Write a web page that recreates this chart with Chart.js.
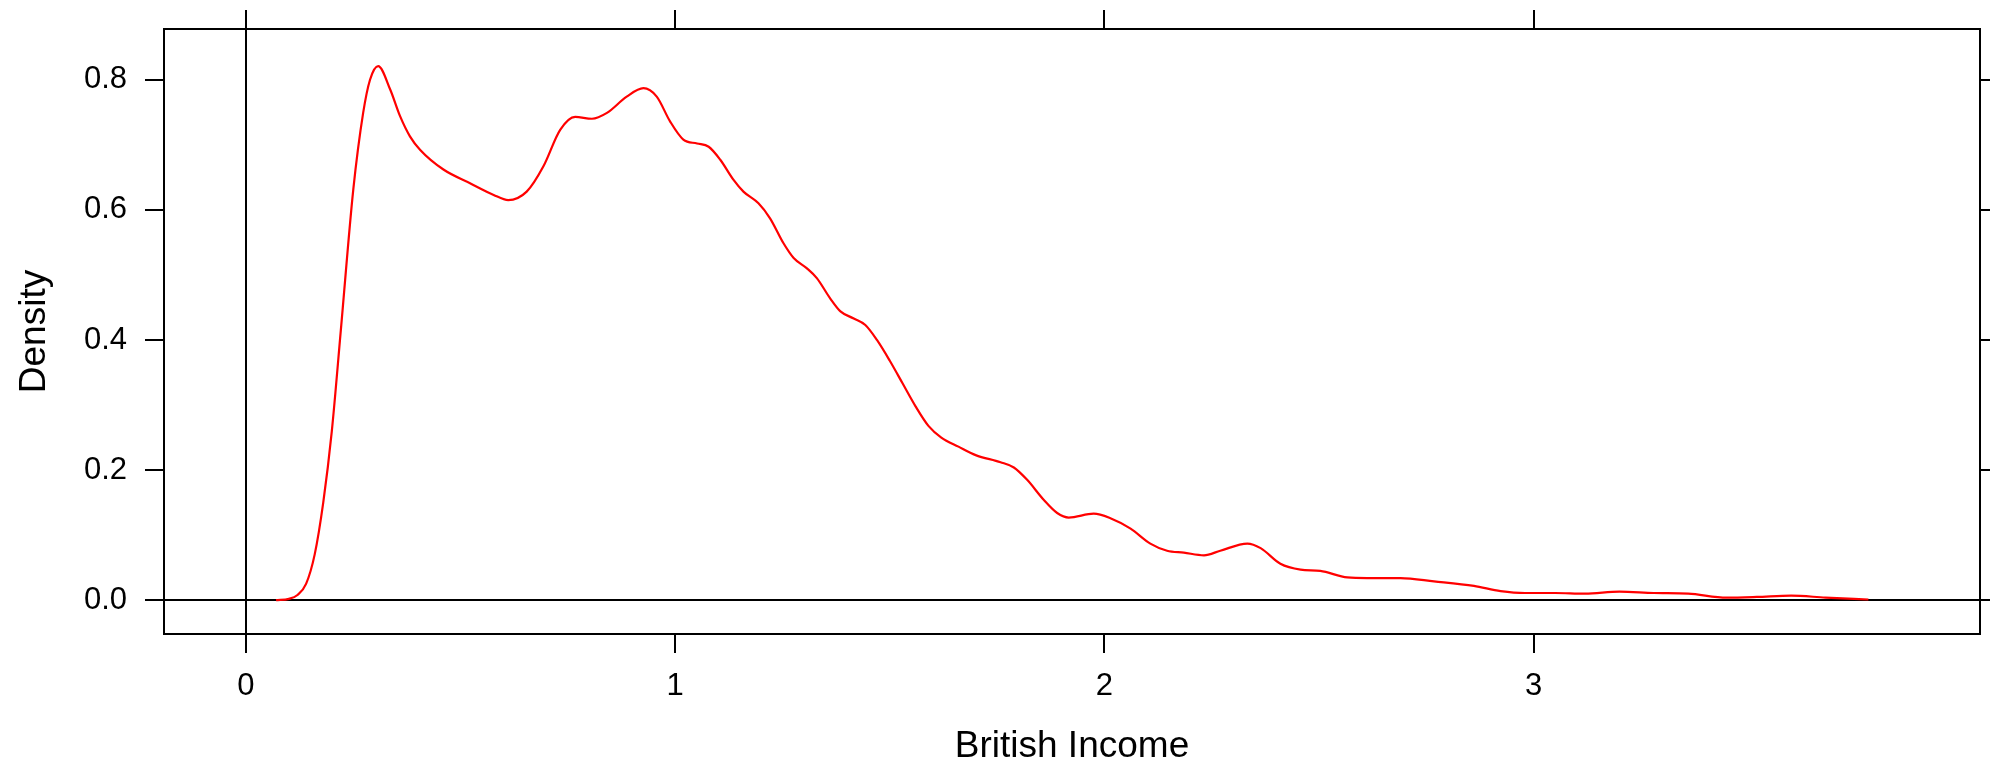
<!DOCTYPE html>
<html>
<head>
<meta charset="utf-8">
<title>British Income density</title>
<script src="https://cdn.jsdelivr.net/npm/chart.js@4/dist/chart.umd.min.js"></script>
<style>
  html, body { margin: 0; padding: 0; background: #ffffff; }
  #wrap { width: 1990px; height: 768px; }
</style>
</head>
<body>
<div id="wrap"><canvas id="chart" width="1990" height="768"></canvas></div>
<script>
// Kernel density estimate of British income (evaluation grid and density)
const incomeX = [
  0.07, 0.10, 0.12, 0.14, 0.16, 0.18, 0.20, 0.221, 0.25, 0.273, 0.289, 0.308,
  0.336, 0.359, 0.382, 0.406, 0.46, 0.522, 0.577, 0.611, 0.654, 0.693, 0.732,
  0.767, 0.806, 0.841, 0.887, 0.926, 0.957, 0.988, 1.019, 1.051, 1.078, 1.105,
  1.136, 1.159, 1.194, 1.221, 1.252, 1.276, 1.307, 1.330, 1.361, 1.385, 1.416,
  1.443, 1.470, 1.50, 1.53, 1.56, 1.59, 1.62, 1.66, 1.70, 1.758, 1.789, 1.820,
  1.859, 1.890, 1.917, 1.975, 2.014, 2.061, 2.107, 2.146, 2.185, 2.232, 2.270,
  2.333, 2.364, 2.410, 2.457, 2.503, 2.566, 2.612, 2.690, 2.768, 2.861, 2.923,
  2.98, 3.05, 3.12, 3.20, 3.28, 3.36, 3.45, 3.52, 3.60, 3.68, 3.78
];
const densityY = [
  0.000, 0.002, 0.008, 0.025, 0.07, 0.15, 0.26, 0.415, 0.631, 0.749, 0.800, 0.821,
  0.785, 0.744, 0.713, 0.692, 0.662, 0.641, 0.623, 0.615, 0.628, 0.667, 0.723,
  0.743, 0.740, 0.749, 0.774, 0.787, 0.774, 0.736, 0.708, 0.702, 0.697, 0.677,
  0.646, 0.628, 0.610, 0.587, 0.549, 0.526, 0.510, 0.495, 0.464, 0.444, 0.433,
  0.423, 0.400, 0.368, 0.333, 0.298, 0.268, 0.250, 0.236, 0.223, 0.212, 0.204, 0.185,
  0.154, 0.134, 0.127, 0.133, 0.126, 0.110, 0.087, 0.076, 0.073, 0.069, 0.076,
  0.087, 0.080, 0.056, 0.047, 0.045, 0.035, 0.034, 0.034, 0.029, 0.022, 0.014,
  0.011, 0.011, 0.010, 0.013, 0.011, 0.010, 0.004, 0.005, 0.007, 0.004, 0.001
];

const xTicks = [0, 1, 2, 3];
const xTickLabels = ['0', '1', '2', '3'];
const yTicks = [0, 0.2, 0.4, 0.6, 0.8];
const yTickLabels = ['0.0', '0.2', '0.4', '0.6', '0.8'];
const xTitle = 'British Income';
const yTitle = 'Density';

const FONT = '"Liberation Sans", Arial, Helvetica, sans-serif';

// Panel frame, tick marks on all four sides, labels and reference lines
const latticePanel = {
  id: 'latticePanel',
  beforeDatasetsDraw(chart) {
    const { ctx, chartArea: a, scales: { x, y } } = chart;
    ctx.save();
    ctx.strokeStyle = '#000000';
    ctx.lineWidth = 2;
    ctx.beginPath();
    const x0 = Math.round(x.getPixelForValue(0));
    const y0 = Math.round(y.getPixelForValue(0));
    ctx.moveTo(x0, a.top); ctx.lineTo(x0, a.bottom);
    ctx.moveTo(a.left, y0); ctx.lineTo(a.right, y0);
    ctx.stroke();
    ctx.restore();
  },
  afterDraw(chart) {
    const { ctx, chartArea: a, scales: { x, y } } = chart;
    const tick = 19;
    ctx.save();
    ctx.strokeStyle = '#000000';
    ctx.lineWidth = 2;
    ctx.strokeRect(a.left, a.top, a.right - a.left, a.bottom - a.top);
    ctx.beginPath();
    xTicks.forEach(v => {
      const px = Math.round(x.getPixelForValue(v));
      ctx.moveTo(px, a.bottom); ctx.lineTo(px, a.bottom + tick);
      ctx.moveTo(px, a.top); ctx.lineTo(px, a.top - tick);
    });
    yTicks.forEach(v => {
      const py = Math.round(y.getPixelForValue(v));
      ctx.moveTo(a.left, py); ctx.lineTo(a.left - tick, py);
      ctx.moveTo(a.right, py); ctx.lineTo(a.right + tick, py);
    });
    ctx.stroke();

    ctx.fillStyle = '#000000';
    ctx.font = '31px ' + FONT;
    ctx.textBaseline = 'middle';
    ctx.textAlign = 'center';
    xTicks.forEach((v, i) => {
      ctx.fillText(xTickLabels[i], x.getPixelForValue(v), a.bottom + 52);
    });
    ctx.textAlign = 'right';
    yTicks.forEach((v, i) => {
      ctx.fillText(yTickLabels[i], a.left - 37, y.getPixelForValue(v));
    });

    ctx.font = '37px ' + FONT;
    ctx.textAlign = 'center';
    ctx.fillText(xTitle, (a.left + a.right) / 2, a.bottom + 113);
    ctx.translate(35, (a.top + a.bottom) / 2);
    ctx.rotate(-Math.PI / 2);
    ctx.fillText(yTitle, 0, 0);
    ctx.restore();
  }
};

new Chart(document.getElementById('chart'), {
  type: 'line',
  data: {
    datasets: [{
      data: incomeX.map((v, i) => ({ x: v, y: densityY[i] })),
      borderColor: '#ff0000',
      borderWidth: 2.2,
      pointRadius: 0,
      fill: false,
      cubicInterpolationMode: 'monotone'
    }]
  },
  options: {
    responsive: false,
    animation: false,
    layout: { padding: { left: 164, right: 10, top: 29, bottom: 134 } },
    plugins: { legend: { display: false }, tooltip: { enabled: false } },
    scales: {
      x: { type: 'linear', display: false, min: -0.191, max: 4.04 },
      y: { type: 'linear', display: false, min: -0.052, max: 0.878 }
    }
  },
  plugins: [latticePanel]
});
</script>
</body>
</html>
